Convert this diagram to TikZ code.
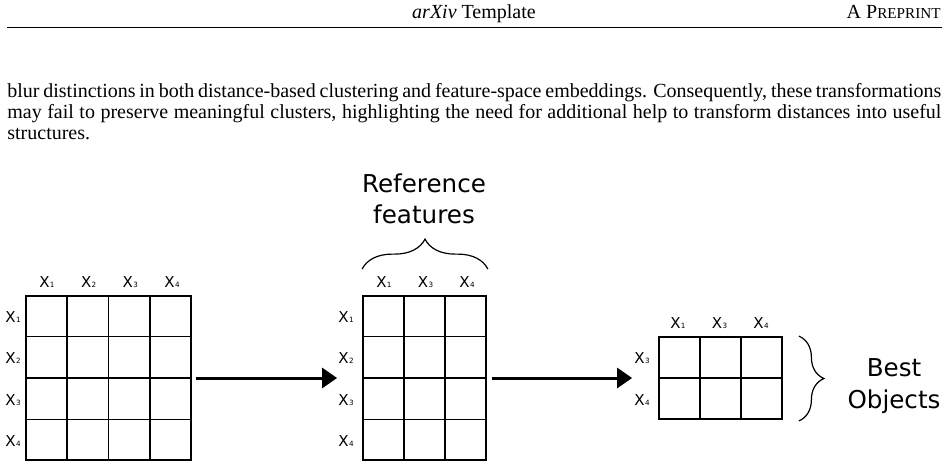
\documentclass[tikz,border=0pt]{standalone}
\usepackage{fontspec}
\setmainfont{Liberation Serif}
\newfontfamily\djv{DejaVu Sans}
\usetikzlibrary{arrows.meta,decorations.pathreplacing,calc}
\newcommand\xlab[1]{X\kern0.2pt{\fontsize{3.6}{4}\selectfont #1}}
\begin{document}
\begin{tikzpicture}[x=0.5pt,y=-0.5pt,
  gridbox/.style={draw, line width=0.9pt, inner sep=0pt},
  gl/.style={line width=0.9pt},
  lab/.style={font=\djv\fontsize{7.5}{8}\selectfont, inner sep=0pt},
  arr/.style={line width=1.5pt, -{Triangle[length=7.5pt,width=10pt]}},
  brc/.style={decorate, decoration={brace, amplitude=#1}, line width=0.6pt},
  brc/.default=12pt,
  big/.style={font=\djv\fontsize{12.3}{14}\selectfont, inner sep=0pt},
  body/.style={font=\fontsize{10}{12}\selectfont, inner sep=0pt}]
\useasboundingbox (0,0) rectangle (949,468);

% header
\node[body, anchor=base] (hdr) at (474,18) {\textit{arXiv} Template};
\node[body, anchor=base east] (pre) at (941,18) {A P{\fontsize{7.6}{9}\selectfont REPRINT}};
\draw[line width=0.5pt] (7,27) -- (942,27);

% paragraph
\node[body, anchor=base west] (p1) at (7,97) {\makebox[467pt][s]{blur distinctions in both distance-based clustering and feature-space embeddings. Consequently, these transformations}};
\node[body, anchor=base west] (p2) at (7,118) {\makebox[467pt][s]{may fail to preserve meaningful clusters, highlighting the need for additional help to transform distances into useful}};
\node[body, anchor=base west] (p3) at (7,139) {structures.};

% grids
\node[gridbox, minimum width=82.5pt, minimum height=82pt] (g1) at (108.5,378) {};
\node[gridbox, minimum width=61.5pt, minimum height=82pt] (g2) at (424.5,378) {};
\node[gridbox, minimum width=61.5pt, minimum height=41pt] (g3) at (720.5,378) {};

\foreach \i in {1,2,3} {
  \draw[gl] ($(g1.north west)!\i/4!(g1.north east)$) -- ($(g1.south west)!\i/4!(g1.south east)$);
  \draw[gl] ($(g1.north west)!\i/4!(g1.south west)$) -- ($(g1.north east)!\i/4!(g1.south east)$);
  \draw[gl] ($(g2.north west)!\i/4!(g2.south west)$) -- ($(g2.north east)!\i/4!(g2.south east)$);
}
\foreach \i in {1,2} {
  \draw[gl] ($(g2.north west)!\i/3!(g2.north east)$) -- ($(g2.south west)!\i/3!(g2.south east)$);
  \draw[gl] ($(g3.north west)!\i/3!(g3.north east)$) -- ($(g3.south west)!\i/3!(g3.south east)$);
}
\draw[gl] (g3.west) -- (g3.east);

% labels
\foreach \c in {1,2,3,4} {
  \node[lab, anchor=base] (g1c\c) at ($(g1.north west)!{(\c-0.5)/4}!(g1.north east) + (1,-8)$) {\xlab{\c}};
  \node[lab] (g1r\c) at ($(g1.north west)!{(\c-0.5)/4}!(g1.south west) + (-12,1)$) {\xlab{\c}};
  \node[lab] (g2r\c) at ($(g2.north west)!{(\c-0.5)/4}!(g2.south west) + (-16,1)$) {\xlab{\c}};
}
\foreach \c/\t in {1/1,2/3,3/4} {
  \node[lab, anchor=base] (g2c\c) at ($(g2.north west)!{(\c-0.5)/3}!(g2.north east) + (1,-8)$) {\xlab{\t}};
  \node[lab, anchor=base] (g3c\c) at ($(g3.north west)!{(\c-0.5)/3}!(g3.north east) + (-1,-8)$) {\xlab{\t}};
}
\node[lab] (g3r1) at ($(g3.north west)!0.25!(g3.south west) + (-16,1)$) {\xlab{3}};
\node[lab] (g3r2) at ($(g3.north west)!0.75!(g3.south west) + (-16,1)$) {\xlab{4}};

% arrows
\draw[arr] ([xshift=2pt]g1.east) -- ([xshift=-12.5pt]g2.west);
\draw[arr] ([xshift=2.5pt]g2.east) -- ([xshift=-13pt]g3.west);

% braces
\draw[brc=15pt] ($(g2.north west)+(0,-26)$) -- ($(g2.north east)+(1,-26)$);
\draw[brc=12.5pt] ($(g3.north east)+(16,0)$) -- ($(g3.south east)+(16,1)$);

% big labels
\node[big, anchor=base] (ref1) at (424,192) {Reference};
\node[big, anchor=base] (ref2) at (424,223) {features};
\node[big, anchor=base] (best1) at (894,376) {Best};
\node[big, anchor=base] (best2) at (894,408) {Objects};
\end{tikzpicture}
\end{document}
